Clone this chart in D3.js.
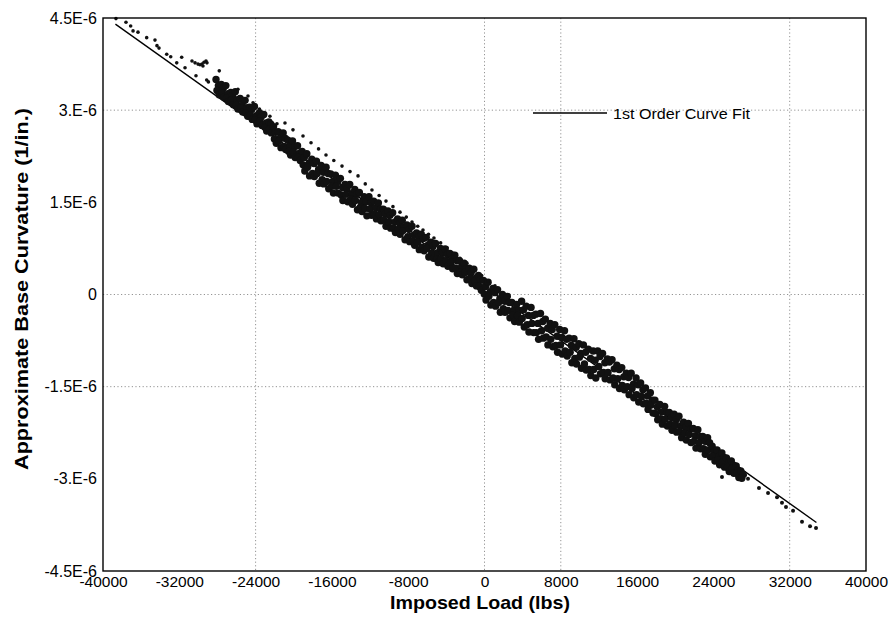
<!DOCTYPE html>
<html>
<head>
<meta charset="utf-8">
<script src="https://cdn.jsdelivr.net/npm/d3@7"></script>
<style>
  body { margin: 0; background: #fff; }
</style>
</head>
<body>
<div id="chart"></div>
<script>
// x ticks (lbs) and y ticks (curvature in units of 1E-6 per inch)
const xTicks = [-40000, -32000, -24000, -16000, -8000, 0, 8000, 16000, 24000, 32000, 40000];
const xTickLabels = ["-40000", "-32000", "-24000", "-16000", "-8000", "0", "8000", "16000", "24000", "32000", "40000"];
const yTicks = [4.5, 3, 1.5, 0, -1.5, -3, -4.5];
const yTickLabels = ["4.5E-6", "3.E-6", "1.5E-6", "0", "-1.5E-6", "-3.E-6", "-4.5E-6"];

// dotted grid lines that show in the original
const gridX = [-24000, 0, 8000, 32000];
const gridY = [3, 0, -1.5];

// [imposed load (lbs), curvature (1E-6 / in.)]
const upperLeftPoints = [
  [-38640, 4.49], [-37590, 4.43], [-37100, 4.37], [-36850, 4.29], [-36330, 4.27],
  [-35420, 4.18], [-34550, 4.14], [-34340, 4.05], [-34130, 4.01], [-33320, 3.91],
  [-32900, 3.87], [-31750, 3.86], [-32270, 3.77], [-31400, 3.69], [-30250, 3.56],
  [-29130, 3.49], [-28950, 3.46], [-27810, 3.64], [-25850, 3.34], [-24800, 3.23],
  [-30670, 3.80], [-30350, 3.77], [-30040, 3.75], [-29830, 3.74], [-29620, 3.75],
  [-29410, 3.78], [-29200, 3.80], [-29100, 3.77], [-29520, 3.72]
];

const upperStrand = [
  [-24270, 3.12], [-23600, 3.02], [-23220, 2.92], [-22500, 2.90], [-21760, 2.78],
  [-20920, 2.79], [-20080, 2.68], [-19030, 2.58], [-18190, 2.47], [-17400, 2.37],
  [-16620, 2.27], [-15800, 2.18], [-14940, 2.09], [-14100, 2.00], [-13260, 1.93],
  [-12500, 1.80], [-11800, 1.70], [-11050, 1.61], [-10330, 1.52], [-9600, 1.43],
  [-8860, 1.34], [-8200, 1.26], [-7600, 1.18], [-7000, 1.11], [-6450, 1.05],
  [-5870, 0.98], [-5300, 0.92], [-4600, 0.84], [-3930, 0.76], [-3250, 0.67],
  [-2570, 0.59], [-1840, 0.51], [-1000, 0.40], [-300, 0.31], [400, 0.22], [1100, 0.14]
];

const mainBand = [
  [-28150,3.50],[-27900,3.40],[-28050,3.32],[-27820,3.25],
  [-27600,3.42],[-27380,3.36],[-27520,3.28],[-27320,3.21],
  [-27120,3.40],[-26880,3.27],[-27030,3.20],[-26850,3.14],
  [-26600,3.29],[-26420,3.24],[-26550,3.16],[-26330,3.09],
  [-26130,3.30],[-25900,3.17],[-26020,3.08],[-25860,3.02],
  [-25620,3.19],[-25400,3.08],[-25550,3.04],[-25350,2.97],
  [-25100,3.16],[-24880,3.04],[-25020,2.96],[-24830,2.90],
  [-24630,3.05],[-24400,3.01],[-24550,2.92],[-24350,2.85],
  [-24120,3.06],[-23900,2.91],[-24040,2.84],[-23850,2.78],
  [-23600,2.96],[-23420,2.89],[-23560,2.82],[-23330,2.75],
  [-23140,2.93],[-22890,2.79],[-23020,2.72],[-22840,2.66],
  [-22610,2.81],[-22400,2.77],[-22540,2.69],[-22350,2.63],
  [-22120,2.73],[-21900,2.64],[-22030,2.53],[-21830,2.46],
  [-21630,2.65],[-21390,2.55],[-21540,2.50],[-21340,2.39],
  [-21110,2.63],[-20880,2.54],[-21020,2.41],[-20840,2.36],
  [-20620,2.51],[-20410,2.42],[-20550,2.33],[-20330,2.27],
  [-20130,2.50],[-19900,2.41],[-20040,2.32],[-19850,2.23],
  [-19600,2.42],[-19390,2.30],[-19530,2.23],[-19320,2.18],
  [-19120,2.33],[-18890,2.23],[-19020,2.11],[-18840,2.01],
  [-18630,2.29],[-18410,2.13],[-18550,2.07],[-18340,1.93],
  [-18110,2.20],[-17880,2.13],[-18030,1.97],[-17840,1.92],
  [-17620,2.17],[-17400,2.03],[-17540,1.97],[-17330,1.81],
  [-17130,2.10],[-16890,1.99],[-17020,1.87],[-16850,1.80],
  [-16610,2.07],[-16400,1.97],[-16550,1.84],[-16330,1.72],
  [-16120,1.96],[-15900,1.84],[-16030,1.76],[-15840,1.65],
  [-15630,1.94],[-15390,1.84],[-15540,1.76],[-15340,1.65],
  [-15110,1.89],[-14880,1.74],[-15020,1.62],[-14850,1.53],
  [-14620,1.79],[-14410,1.72],[-14550,1.63],[-14330,1.51],
  [-14130,1.79],[-13900,1.64],[-14040,1.55],[-13840,1.47],
  [-13600,1.71],[-13390,1.63],[-13530,1.53],[-13320,1.38],
  [-13120,1.66],[-12890,1.50],[-13020,1.42],[-12840,1.35],
  [-12630,1.59],[-12410,1.51],[-12550,1.40],[-12330,1.28],
  [-12110,1.59],[-11880,1.49],[-12030,1.39],[-11840,1.29],
  [-11620,1.52],[-11400,1.41],[-11540,1.31],[-11330,1.23],
  [-11130,1.49],[-10890,1.39],[-11020,1.30],[-10850,1.20],
  [-10610,1.39],[-10400,1.31],[-10550,1.21],[-10330,1.11],
  [-10120,1.36],[-9900,1.29],[-10030,1.18],[-9840,1.08],
  [-9630,1.33],[-9390,1.18],[-9540,1.08],[-9340,1.01],
  [-9110,1.23],[-8880,1.16],[-9020,1.06],[-8850,0.98],
  [-8620,1.21],[-8410,1.10],[-8550,1.04],[-8330,0.89],
  [-8130,1.13],[-7900,1.06],[-8040,0.94],[-7840,0.86],
  [-7600,1.11],[-7390,0.97],[-7530,0.87],[-7320,0.80],
  [-7120,1.00],[-6890,0.93],[-7020,0.85],[-6840,0.73],
  [-6630,0.98],[-6410,0.91],[-6550,0.77],[-6330,0.71],
  [-6110,0.93],[-5880,0.81],[-6030,0.75],[-5840,0.61],
  [-5620,0.85],[-5400,0.78],[-5540,0.67],[-5330,0.59],
  [-5130,0.83],[-4890,0.68],[-5020,0.58],[-4850,0.52],
  [-4610,0.75],[-4400,0.68],[-4550,0.58],[-4330,0.50],
  [-4120,0.74],[-3900,0.65],[-4030,0.55],[-3840,0.46],
  [-3630,0.67],[-3390,0.57],[-3540,0.52],[-3340,0.42],
  [-3110,0.64],[-2880,0.55],[-3020,0.43],[-2850,0.34],
  [-2620,0.55],[-2410,0.45],[-2550,0.36],[-2330,0.32],
  [-2130,0.51],[-1900,0.42],[-2040,0.36],[-1840,0.24],
  [-1600,0.43],[-1390,0.36],[-1530,0.26],[-1320,0.18],
  [-1120,0.41],[-890,0.27],[-1020,0.22],[-840,0.14],
  [-630,0.31],[-410,0.24],[-550,0.13],[-330,0.07],
  [-110,0.23],[120,0.13],[-30,0.01],[160,-0.09],
  [380,0.20],[610,0.04],[460,-0.03],[670,-0.17],
  [890,0.10],[1100,0.03],[950,-0.13],[1170,-0.19],
  [1370,0.08],[1610,-0.07],[1480,-0.13],[1660,-0.29],
  [1880,0.00],[2120,-0.11],[1970,-0.23],[2150,-0.29],
  [2390,-0.03],[2600,-0.13],[2450,-0.26],[2670,-0.38],
  [2870,-0.13],[3110,-0.25],[2980,-0.33],[3160,-0.44],
  [3380,-0.16],[3620,-0.26],[3470,-0.34],[3650,-0.45],
  [3890,-0.11],[4100,-0.25],[3950,-0.39],[4170,-0.53],
  [4370,-0.19],[4610,-0.34],[4480,-0.49],[4660,-0.61],
  [4880,-0.21],[5120,-0.34],[4970,-0.47],[5150,-0.62],
  [5390,-0.32],[5600,-0.47],[5450,-0.62],[5670,-0.73],
  [5870,-0.31],[6110,-0.44],[5980,-0.59],[6160,-0.71],
  [6380,-0.40],[6620,-0.55],[6470,-0.69],[6650,-0.82],
  [6890,-0.47],[7100,-0.57],[6950,-0.73],[7170,-0.85],
  [7370,-0.49],[7610,-0.68],[7480,-0.83],[7660,-0.94],
  [7880,-0.57],[8120,-0.70],[7970,-0.82],[8150,-0.97],
  [8390,-0.59],[8600,-0.73],[8450,-0.92],[8670,-1.00],
  [8870,-0.71],[9110,-0.83],[8980,-0.94],[9160,-1.11],
  [9380,-0.72],[9620,-0.86],[9470,-1.04],[9650,-1.13],
  [9890,-0.80],[10100,-0.96],[9950,-1.02],[10170,-1.20],
  [10370,-0.82],[10610,-0.94],[10480,-1.13],[10660,-1.23],
  [10880,-0.89],[11120,-1.04],[10970,-1.22],[11150,-1.32],
  [11390,-0.92],[11600,-1.07],[11450,-1.22],[11670,-1.36],
  [11870,-0.92],[12110,-1.01],[11980,-1.17],[12160,-1.29],
  [12380,-0.96],[12620,-1.11],[12470,-1.27],[12650,-1.37],
  [12890,-1.05],[13100,-1.10],[12950,-1.27],[13170,-1.39],
  [13370,-1.06],[13610,-1.21],[13480,-1.36],[13660,-1.47],
  [13880,-1.15],[14120,-1.22],[13970,-1.37],[14150,-1.53],
  [14390,-1.19],[14600,-1.34],[14450,-1.48],[14670,-1.55],
  [14870,-1.28],[15110,-1.35],[14980,-1.50],[15160,-1.63],
  [15380,-1.28],[15620,-1.46],[15470,-1.53],[15650,-1.68],
  [15890,-1.36],[16100,-1.47],[15950,-1.63],[16170,-1.75],
  [16370,-1.44],[16610,-1.55],[16480,-1.66],[16660,-1.78],
  [16880,-1.52],[17120,-1.65],[16970,-1.77],[17150,-1.87],
  [17390,-1.60],[17600,-1.72],[17450,-1.80],[17670,-1.93],
  [17870,-1.72],[18110,-1.83],[17980,-1.94],[18160,-2.04],
  [18380,-1.79],[18620,-1.91],[18470,-2.02],[18650,-2.11],
  [18890,-1.82],[19100,-1.92],[18950,-2.03],[19170,-2.14],
  [19370,-1.92],[19610,-2.00],[19480,-2.11],[19660,-2.21],
  [19880,-1.95],[20120,-2.04],[19970,-2.13],[20150,-2.24],
  [20390,-1.98],[20600,-2.14],[20450,-2.23],[20670,-2.33],
  [20870,-2.08],[21110,-2.16],[20980,-2.26],[21160,-2.37],
  [21380,-2.10],[21620,-2.19],[21470,-2.28],[21650,-2.41],
  [21890,-2.18],[22100,-2.30],[21950,-2.39],[22170,-2.50],
  [22370,-2.20],[22610,-2.31],[22480,-2.41],[22660,-2.51],
  [22880,-2.31],[23120,-2.39],[22970,-2.51],[23150,-2.60],
  [23390,-2.33],[23600,-2.41],[23450,-2.53],[23670,-2.64],
  [23870,-2.47],[24110,-2.55],[23980,-2.63],[24160,-2.71],
  [24380,-2.53],[24620,-2.63],[24470,-2.69],[24650,-2.77],
  [24890,-2.58],[25100,-2.65],[24950,-2.73],[25170,-2.81],
  [25370,-2.66],[25610,-2.73],[25480,-2.81],[25660,-2.88],
  [25880,-2.71],[26120,-2.78],[25970,-2.83],[26150,-2.91],
  [26390,-2.79],[26600,-2.86],[26450,-2.91],[26670,-2.98],
  [26870,-2.87],[27110,-2.93],[26980,-2.99]
];

const tailPoints = [
  [24900, -2.97], [27310, -2.94], [27630, -3.00], [28780, -3.15], [29730, -3.23],
  [30670, -3.30], [31190, -3.39], [31610, -3.46], [32350, -3.52], [33290, -3.70],
  [34130, -3.77], [34760, -3.80]
];

// 1st order curve fit, end points
const fitLoad = [-38700, 34800];
const fitCurv = [4.40, -3.71];

class CurvaturePlot {
  constructor(config) {
    this.config = config;
    this.svg = null;
    this.xScale = null;
    this.yScale = null;

    this.createSvg();
    this.createScales();
    this.createGrid();
    this.createAxis();
  }

  createSvg() {
    this.svg = d3.select(this.config.div)
      .append("svg")
      .attr("width", this.config.width)
      .attr("height", this.config.height)
      .style("font-family", "'Liberation Sans', Arial, sans-serif");

    this.svg.append("rect")
      .attr("width", this.config.width)
      .attr("height", this.config.height)
      .attr("fill", "#fff");
  }

  createScales() {
    const c = this.config;
    this.xScale = d3.scaleLinear().domain([-40000, 40000]).range([c.left, c.right]);
    this.yScale = d3.scaleLinear().domain([-4.5, 4.5]).range([c.bottom, c.top]);
  }

  createGrid() {
    const c = this.config;
    const grid = this.svg.append("g")
      .attr("stroke", "#888")
      .attr("stroke-width", 0.9)
      .attr("stroke-dasharray", "1.2,2.4");

    grid.selectAll("line.gx")
      .data(gridX)
      .join("line")
      .attr("class", "gx")
      .attr("x1", d => this.xScale(d))
      .attr("x2", d => this.xScale(d))
      .attr("y1", c.top)
      .attr("y2", c.bottom);

    grid.selectAll("line.gy")
      .data(gridY)
      .join("line")
      .attr("class", "gy")
      .attr("x1", c.left)
      .attr("x2", c.right)
      .attr("y1", d => this.yScale(d))
      .attr("y2", d => this.yScale(d));
  }

  createAxis() {
    const c = this.config;

    let xAxis = d3.axisBottom(this.xScale)
      .tickValues(xTicks)
      .tickFormat((d, i) => xTickLabels[i])
      .tickSize(0)
      .tickPadding(5);

    let yAxis = d3.axisLeft(this.yScale)
      .tickValues(yTicks)
      .tickFormat((d, i) => yTickLabels[i])
      .tickSize(0)
      .tickPadding(6);

    const gx = this.svg.append("g")
      .attr("transform", `translate(0,${c.bottom})`)
      .call(xAxis);
    const gy = this.svg.append("g")
      .attr("transform", `translate(${c.left},0)`)
      .call(yAxis);

    [gx, gy].forEach(g => {
      g.select(".domain").remove();
      g.selectAll(".tick line").remove();
      g.attr("font-family", "'Liberation Sans', Arial, sans-serif");
      g.selectAll("text").attr("fill", "#000");
    });
    gx.selectAll("text").style("font-size", "15.5px");
    gy.selectAll("text").style("font-size", "16px");

    this.svg.append("text")
      .attr("x", 480)
      .attr("y", 609)
      .attr("text-anchor", "middle")
      .attr("textLength", 180)
      .attr("lengthAdjust", "spacingAndGlyphs")
      .style("font-size", "19px")
      .style("font-weight", "bold")
      .text("Imposed Load (lbs)");

    this.svg.append("text")
      .attr("transform", "translate(28,289) rotate(-90)")
      .attr("text-anchor", "middle")
      .attr("textLength", 362)
      .attr("lengthAdjust", "spacingAndGlyphs")
      .style("font-size", "19px")
      .style("font-weight", "bold")
      .text("Approximate Base Curvature (1/in.)");
  }

  renderPoints(data, r) {
    this.svg.append("g")
      .selectAll("circle")
      .data(data)
      .join("circle")
      .attr("cx", d => this.xScale(d[0]))
      .attr("cy", d => this.yScale(d[1]))
      .attr("r", r)
      .attr("fill", "#111");
  }

  renderFit() {
    const pts = fitLoad.map((x, i) => [x, fitCurv[i]]);
    this.svg.append("path")
      .datum(pts)
      .attr("fill", "none")
      .attr("stroke", "#000")
      .attr("stroke-width", 1.4)
      .attr("d", d3.line()
        .x(d => this.xScale(d[0]))
        .y(d => this.yScale(d[1]))
      );
  }

  renderFrame() {
    const c = this.config;
    this.svg.append("rect")
      .attr("x", c.left)
      .attr("y", c.top)
      .attr("width", c.right - c.left)
      .attr("height", c.bottom - c.top)
      .attr("fill", "none")
      .attr("stroke", "#000")
      .attr("stroke-width", 1.4);
  }

  renderLegend() {
    this.svg.append("line")
      .attr("x1", 533).attr("x2", 607)
      .attr("y1", 113).attr("y2", 113)
      .attr("stroke", "#000")
      .attr("stroke-width", 1.4);

    this.svg.append("text")
      .attr("x", 613)
      .attr("y", 118.5)
      .attr("textLength", 137)
      .attr("lengthAdjust", "spacingAndGlyphs")
      .style("font-size", "15.5px")
      .text("1st Order Curve Fit");
  }
}

const chart = new CurvaturePlot({
  div: "#chart",
  width: 892,
  height: 620,
  left: 103,
  right: 866,
  top: 18,
  bottom: 571
});

chart.renderFit();
chart.renderPoints(mainBand, 3.7);
chart.renderPoints(upperStrand, 1.8);
chart.renderPoints(upperLeftPoints, 1.8);
chart.renderPoints(tailPoints, 2);
chart.renderFrame();
chart.renderLegend();
</script>
</body>
</html>
